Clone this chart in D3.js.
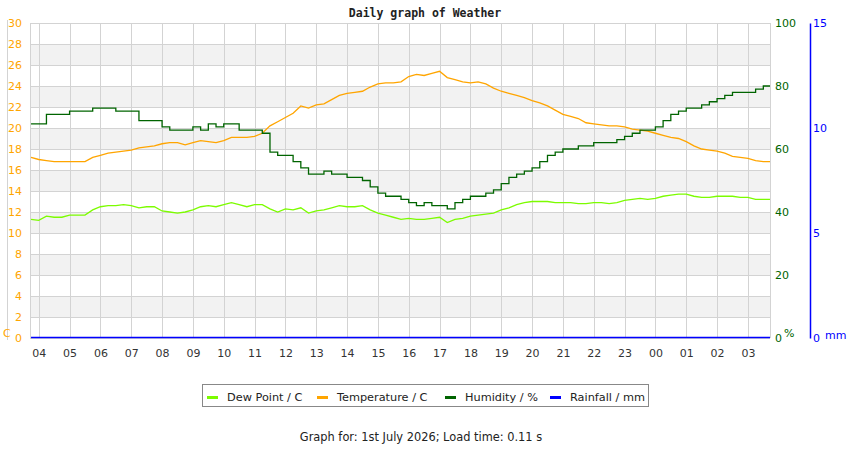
<!DOCTYPE html>
<html>
<head>
<meta charset="utf-8">
<script src="https://cdn.jsdelivr.net/npm/d3@7"></script>
<style>
  body { margin: 0; background: #fff; }
  svg { display: block; font-family: "DejaVu Sans", sans-serif; }
</style>
</head>
<body>
<svg id="chart"></svg>
<script>
// readings every 15 minutes, from 03:45 on the 30th to 03:45 on the 1st
var tempC = [17.2, 17.0, 16.9, 16.8, 16.8, 16.8, 16.8, 16.8, 17.2, 17.4,
  17.6, 17.7, 17.8, 17.9, 18.1, 18.2, 18.3, 18.5, 18.6, 18.6,
  18.4, 18.6, 18.8, 18.7, 18.6, 18.8, 19.1, 19.1, 19.1, 19.2,
  19.5, 20.2, 20.6, 21.0,
  21.4, 22.1, 21.9, 22.2, 22.3, 22.7, 23.1, 23.3, 23.4, 23.5,
  23.9, 24.2, 24.3, 24.3, 24.4, 24.9, 25.1, 25.0, 25.2, 25.4,
  24.8, 24.6, 24.4, 24.3, 24.4, 24.2, 23.8, 23.5, 23.3, 23.1,
  22.9, 22.6,
  22.4, 22.1, 21.7, 21.3, 21.1, 20.9, 20.5, 20.4, 20.3, 20.2,
  20.2, 20.1, 19.9, 19.8, 19.7, 19.5, 19.3, 19.1, 19.0, 18.7,
  18.3, 18.0, 17.9, 17.8, 17.6, 17.3, 17.2, 17.1, 16.9, 16.8, 16.8]

var dewC = [11.3, 11.2, 11.6, 11.5, 11.5, 11.7, 11.7, 11.7, 12.2, 12.5,
  12.6, 12.6, 12.7, 12.6, 12.4, 12.5, 12.5, 12.1, 12.0, 11.9,
  12.0, 12.2, 12.5, 12.6, 12.5, 12.7, 12.9, 12.7, 12.5, 12.7,
  12.7, 12.3, 12.0, 12.3,
  12.2, 12.4, 11.9, 12.1, 12.2, 12.4, 12.6, 12.5, 12.5, 12.6,
  12.2, 11.9, 11.7, 11.5, 11.3, 11.4, 11.3, 11.3, 11.4, 11.5,
  11.0, 11.3, 11.4, 11.6, 11.7, 11.8, 11.9, 12.2, 12.4, 12.7,
  12.9, 13.0,
  13.0, 13.0, 12.9, 12.9, 12.9, 12.8, 12.8, 12.9, 12.9, 12.8,
  12.9, 13.1, 13.2, 13.3, 13.2, 13.3, 13.5, 13.6, 13.7, 13.7,
  13.5, 13.4, 13.4, 13.5, 13.5, 13.5, 13.4, 13.4, 13.2, 13.2, 13.2]

var humidity = [68, 68, 71, 71, 71, 72, 72, 72, 73, 73,
  73, 72, 72, 72, 69, 69, 69, 67, 66, 66,
  66, 67, 66, 68, 67, 68, 68, 66, 66, 66,
  65, 59, 58, 58,
  56, 54, 52, 52, 53, 52, 52, 51, 51, 50,
  48, 46, 45, 45, 44, 43, 42, 43, 42, 42,
  41, 43, 44, 45, 45, 46, 47, 49, 51, 52,
  53, 54,
  56, 58, 59, 60, 60, 61, 61, 62, 62, 62,
  63, 64, 65, 66, 66, 67, 69, 71, 72, 73,
  73, 74, 75, 76, 77, 78, 78, 78, 79, 80, 80]

var rainMm = [0, 0, 0, 0, 0, 0, 0, 0, 0, 0, 0, 0, 0, 0, 0, 0, 0, 0, 0, 0,
  0, 0, 0, 0, 0, 0, 0, 0, 0, 0, 0, 0, 0, 0, 0, 0, 0, 0, 0, 0,
  0, 0, 0, 0, 0, 0, 0, 0, 0, 0, 0, 0, 0, 0, 0, 0, 0, 0, 0, 0,
  0, 0, 0, 0, 0, 0, 0, 0, 0, 0, 0, 0, 0, 0, 0, 0, 0, 0, 0, 0,
  0, 0, 0, 0, 0, 0, 0, 0, 0, 0, 0, 0, 0, 0, 0, 0, 0]

var tempTicks = [0, 2, 4, 6, 8, 10, 12, 14, 16, 18, 20, 22, 24, 26, 28, 30]
var humTicks = [0, 20, 40, 60, 80, 100]
var rainTicks = [0, 5, 10, 15]

var series = [
  { name: "Dew Point / C", color: "#7cfc00", values: dewC, axis: "temp" },
  { name: "Temperature / C", color: "#ffa500", values: tempC, axis: "temp" },
  { name: "Humidity / %", color: "#006400", values: humidity, axis: "hum" },
  { name: "Rainfall / mm", color: "#0000ff", values: rainMm, axis: "rain" }
]

var t0 = new Date(2026, 5, 30, 3, 45)
var times = tempC.map((d, i) => new Date(t0.getTime() + i * 15 * 60000))

var W = 850, H = 450
var pLeft = 30, pRight = 770, pTop = 23, pBottom = 338

var svg = d3.select("#chart").attr("width", W).attr("height", H)

var x = d3.scaleTime()
  .domain([new Date(2026, 5, 30, 3, 43), new Date(2026, 6, 1, 3, 43)])
  .range([pLeft, pRight])
var yTemp = d3.scaleLinear().domain([0, 30]).range([pBottom, pTop])
var yHum = d3.scaleLinear().domain([0, 100]).range([pBottom, pTop])
var yRain = d3.scaleLinear().domain([0, 15]).range([pBottom, pTop])
var yScale = { temp: yTemp, hum: yHum, rain: yRain }

// title
svg.append("text")
  .attr("x", 425).attr("y", 16.5)
  .attr("text-anchor", "middle")
  .style("font-family", "'DejaVu Sans Mono', monospace")
  .style("font-weight", "bold")
  .style("font-size", "11.5px")
  .attr("fill", "#222")
  .text("Daily graph of Weather")

// shaded bands
var bands = tempTicks.filter(v => v % 4 == 2 && v < 30)
svg.append("g").selectAll("rect")
  .data(bands)
  .join("rect")
  .attr("x", pLeft)
  .attr("width", pRight - pLeft)
  .attr("y", d => yTemp(d + 2))
  .attr("height", d => yTemp(d) - yTemp(d + 2))
  .attr("fill", "#f2f2f2")

// grid
var hours = d3.timeHour.range(new Date(2026, 5, 30, 4), new Date(2026, 6, 1, 4))
var grid = svg.append("g").attr("stroke", "#d3d3d3").attr("stroke-width", 1)
grid.selectAll("line.h")
  .data(tempTicks)
  .join("line")
  .attr("class", "h")
  .attr("x1", pLeft).attr("x2", pRight)
  .attr("y1", d => Math.round(yTemp(d)) + 0.5)
  .attr("y2", d => Math.round(yTemp(d)) + 0.5)
grid.selectAll("line.v")
  .data(hours)
  .join("line")
  .attr("class", "v")
  .attr("x1", d => Math.round(x(d)) + 0.5)
  .attr("x2", d => Math.round(x(d)) + 0.5)
  .attr("y1", pTop).attr("y2", pBottom)
grid.append("line").attr("x1", pLeft + 0.5).attr("x2", pLeft + 0.5).attr("y1", pTop).attr("y2", pBottom)
grid.append("line").attr("x1", pRight + 0.5).attr("x2", pRight + 0.5).attr("y1", pTop).attr("y2", pBottom)
// far left axis rule
grid.append("line").attr("x1", 7.5).attr("x2", 7.5).attr("y1", 20).attr("y2", pBottom + 2)

// axes
var axLeft = svg.append("g")
  .attr("transform", `translate(25,0)`)
  .call(d3.axisLeft(yTemp).tickValues(tempTicks).tickSize(0).tickPadding(3))
axLeft.select(".domain").remove()
axLeft.selectAll("text").attr("fill", "#ffa500").style("font-size", "11px").style("font-family", "'DejaVu Sans', sans-serif")
svg.append("text").attr("x", 3).attr("y", 337).attr("fill", "#ffa500")
  .style("font-size", "11px").text("C")

var axBottom = svg.append("g")
  .attr("transform", `translate(0,${pBottom})`)
  .call(d3.axisBottom(x).tickValues(hours).tickFormat(d3.timeFormat("%H")).tickSize(0).tickPadding(11))
axBottom.select(".domain").remove()
axBottom.selectAll("text").attr("fill", "#333").style("font-size", "11px").style("font-family", "'DejaVu Sans', sans-serif")

var axHum = svg.append("g")
  .attr("transform", `translate(${pRight},0)`)
  .call(d3.axisRight(yHum).tickValues(humTicks).tickSize(0).tickPadding(5))
axHum.select(".domain").remove()
axHum.selectAll("text").attr("fill", "#006400").style("font-size", "11px").style("font-family", "'DejaVu Sans', sans-serif")
svg.append("text").attr("x", 784).attr("y", 337).attr("fill", "#006400")
  .style("font-size", "11px").text("%")

var axRain = svg.append("g")
  .attr("transform", `translate(810,0)`)
  .call(d3.axisRight(yRain).tickValues(rainTicks).tickSize(0).tickSizeOuter(0).tickPadding(3))
axRain.select(".domain").attr("stroke", "#0000ff").attr("stroke-width", 1.5)
axRain.selectAll("text").attr("fill", "#0000ff").style("font-size", "11px").style("font-family", "'DejaVu Sans', sans-serif")
svg.append("text").attr("x", 825).attr("y", 339).attr("fill", "#0000ff")
  .style("font-size", "11px").text("mm")

// lines
svg.append("clipPath").attr("id", "plotClip")
  .append("rect").attr("x", pLeft).attr("y", pTop - 2).attr("width", pRight - pLeft).attr("height", pBottom - pTop + 4)

var plot = svg.append("g").attr("clip-path", "url(#plotClip)")
series.forEach(function (s) {
  var line = d3.line()
    .x((d, i) => x(times[i]))
    .y(d => yScale[s.axis](d) - (s.axis == "rain" ? 0.5 : 0))
    .curve(s.axis == "hum" ? d3.curveStepAfter : d3.curveLinear)
  plot.append("path")
    .datum(s.values)
    .attr("fill", "none")
    .attr("stroke", s.color)
    .attr("stroke-width", s.axis == "rain" ? 1.6 : 1.3)
    .attr("d", line)
})

// legend
var legend = svg.append("g")
legend.append("rect")
  .attr("x", 202.5).attr("y", 384.5).attr("width", 446).attr("height", 22)
  .attr("fill", "#fff").attr("stroke", "#888")
var legendX = [207, 317, 445, 550]
series.forEach(function (s, i) {
  legend.append("line")
    .attr("x1", legendX[i]).attr("x2", legendX[i] + 11)
    .attr("y1", 397.5).attr("y2", 397.5)
    .attr("stroke", s.color).attr("stroke-width", 3)
  legend.append("text")
    .attr("x", legendX[i] + 20).attr("y", 400.5)
    .attr("fill", "#222").style("font-size", "11.3px")
    .text(s.name)
})

svg.append("text")
  .attr("x", 421).attr("y", 441)
  .attr("text-anchor", "middle")
  .attr("fill", "#222").style("font-size", "11.4px")
  .text("Graph for: 1st July 2026; Load time: 0.11 s")
</script>
</body>
</html>
